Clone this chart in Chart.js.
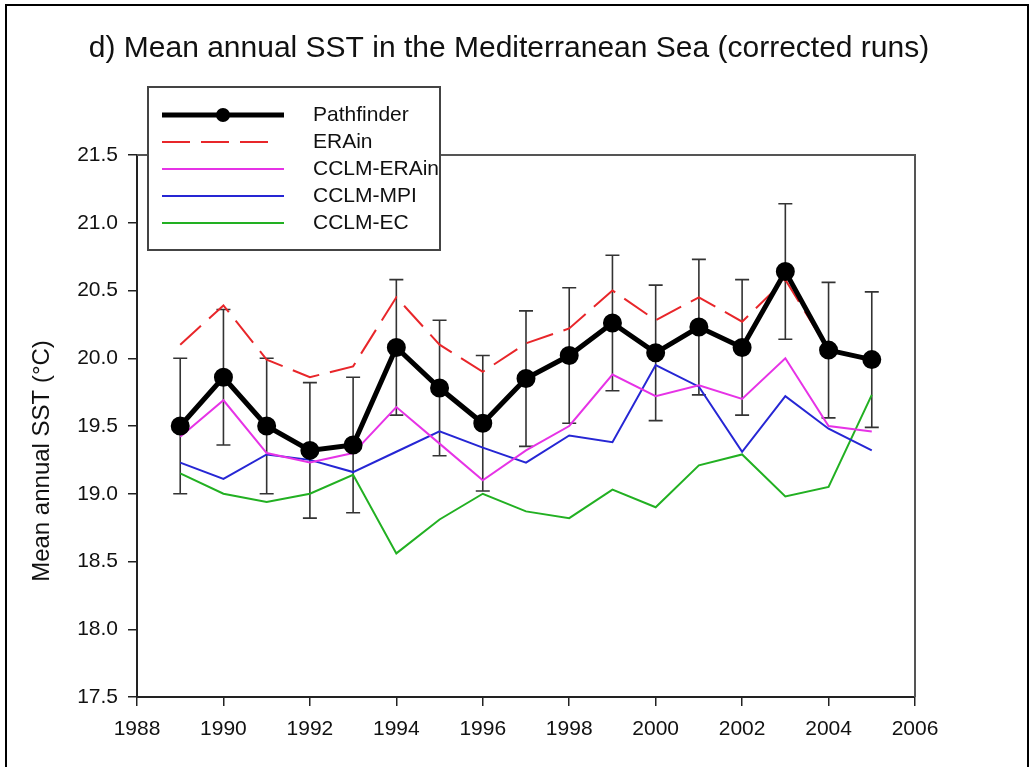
<!DOCTYPE html>
<html>
<head>
<meta charset="utf-8">
<script src="https://cdn.jsdelivr.net/npm/chart.js@4.4.1/dist/chart.umd.min.js"></script>
<style>
  html, body { margin: 0; padding: 0; background: #fff; }
  #wrap { position: relative; width: 1034px; height: 767px; }
  #frame { position: absolute; left: 5px; top: 4px; width: 1024px; height: 780px; border: 2px solid #000; box-sizing: border-box; pointer-events: none; }
  canvas { position: absolute; left: 0; top: 0; }
</style>
</head>
<body>
<div id="wrap">
  <canvas id="c" width="1034" height="767"></canvas>
  <div id="frame"></div>
</div>
<script>
const years = [1989,1990,1991,1992,1993,1994,1995,1996,1997,1998,1999,2000,2001,2002,2003,2004,2005];
const pathfinder = [19.50,19.86,19.50,19.32,19.36,20.08,19.78,19.52,19.85,20.02,20.26,20.04,20.23,20.08,20.64,20.06,19.99];
const pathfinderErr = [0.5,0.5,0.5,0.5,0.5,0.5,0.5,0.5,0.5,0.5,0.5,0.5,0.5,0.5,0.5,0.5,0.5];
const erain = [20.10,20.39,19.99,19.86,19.94,20.45,20.10,19.90,20.11,20.22,20.50,20.28,20.45,20.27,20.58,20.06,19.98];
const cclmErain = [19.42,19.69,19.30,19.23,19.30,19.64,19.37,19.10,19.32,19.50,19.88,19.72,19.80,19.70,20.00,19.50,19.46];
const cclmMpi = [19.23,19.11,19.29,19.25,19.16,19.31,19.46,19.34,19.23,19.43,19.38,19.95,19.79,19.31,19.72,19.48,19.32];
const cclmEc = [19.15,19.00,18.94,19.00,19.14,18.56,18.81,19.00,18.87,18.82,19.03,18.90,19.21,19.29,18.98,19.05,19.73];
const xTicks = [1988,1990,1992,1994,1996,1998,2000,2002,2004,2006];
const yTicks = [17.5,18.0,18.5,19.0,19.5,20.0,20.5,21.0,21.5];
const titleText = 'd) Mean annual SST in the Mediterranean Sea (corrected runs)';
const yTitle = 'Mean annual SST (\u00B0C)';

const pts = arr => years.map((y, i) => ({ x: y, y: arr[i] }));
const FONT = '"Liberation Sans", Arial, sans-serif';

const errorBars = {
  id: 'errorBars',
  beforeDatasetsDraw(chart) {
    const { ctx, scales: { x, y } } = chart;
    ctx.save();
    ctx.strokeStyle = '#333';
    ctx.lineWidth = 1.6;
    years.forEach((yr, i) => {
      const px = x.getPixelForValue(yr);
      const top = y.getPixelForValue(pathfinder[i] + pathfinderErr[i]);
      const bot = y.getPixelForValue(pathfinder[i] - pathfinderErr[i]);
      ctx.beginPath();
      ctx.moveTo(px, top); ctx.lineTo(px, bot);
      ctx.moveTo(px - 7, top); ctx.lineTo(px + 7, top);
      ctx.moveTo(px - 7, bot); ctx.lineTo(px + 7, bot);
      ctx.stroke();
    });
    ctx.restore();
  }
};

const frameAndText = {
  id: 'frameAndText',
  beforeDatasetsDraw(chart) {
    const { ctx, chartArea: a } = chart;
    ctx.save();
    ctx.strokeStyle = '#555';
    ctx.lineWidth = 2;
    ctx.beginPath();
    ctx.moveTo(a.left, a.top); ctx.lineTo(a.right, a.top); ctx.lineTo(a.right, a.bottom);
    ctx.stroke();
    ctx.restore();
  },
  afterDraw(chart) {
    const { ctx } = chart;
    ctx.save();
    ctx.fillStyle = '#111';
    ctx.font = '30px ' + FONT;
    ctx.textAlign = 'center';
    ctx.textBaseline = 'middle';
    ctx.fillText(titleText, 509, 49);
    ctx.translate(42, 461);
    ctx.rotate(-Math.PI / 2);
    ctx.font = '24px ' + FONT;
    ctx.fillText(yTitle, 0, 0);
    ctx.restore();

    ctx.save();
    const bx = 148, by = 87, bw = 292, bh = 163;
    ctx.fillStyle = '#fff';
    ctx.fillRect(bx, by, bw, bh);
    ctx.strokeStyle = '#444';
    ctx.lineWidth = 2;
    ctx.strokeRect(bx, by, bw, bh);
    const rows = [115, 142, 169, 196, 223];
    chart.data.datasets.forEach((ds, i) => {
      const yy = rows[i];
      ctx.beginPath();
      ctx.strokeStyle = ds.borderColor;
      ctx.lineWidth = ds.borderWidth;
      ctx.setLineDash(ds.borderDash || []);
      ctx.moveTo(162, yy); ctx.lineTo(i === 1 ? 272 : 284, yy);
      ctx.stroke();
      ctx.setLineDash([]);
      if (ds.pointRadius > 0) {
        ctx.beginPath();
        ctx.fillStyle = ds.pointBackgroundColor;
        ctx.arc(223, yy, ds.pointRadius, 0, Math.PI * 2);
        ctx.fill();
      }
      ctx.fillStyle = '#111';
      ctx.font = '21px ' + FONT;
      ctx.textAlign = 'left';
      ctx.textBaseline = 'middle';
      ctx.fillText(ds.label, 313, yy);
    });
    ctx.restore();
  }
};

new Chart(document.getElementById('c'), {
  type: 'line',
  data: {
    datasets: [
      { label: 'Pathfinder', data: pts(pathfinder), borderColor: '#000', borderWidth: 5, pointRadius: 7, pointBackgroundColor: '#000', pointBorderColor: '#000', pointHoverRadius: 7, order: 0 },
      { label: 'ERAin', data: pts(erain), borderColor: '#e8262a', borderWidth: 2, borderDash: [28, 11], pointRadius: 0, order: 1 },
      { label: 'CCLM-ERAin', data: pts(cclmErain), borderColor: '#e633e6', borderWidth: 2, pointRadius: 0, order: 2 },
      { label: 'CCLM-MPI', data: pts(cclmMpi), borderColor: '#2626d4', borderWidth: 2, pointRadius: 0, order: 3 },
      { label: 'CCLM-EC', data: pts(cclmEc), borderColor: '#22b022', borderWidth: 2, pointRadius: 0, order: 4 }
    ]
  },
  options: {
    responsive: false,
    animation: false,
    events: [],
    layout: { padding: { top: 155, right: 119, left: 0, bottom: 0 } },
    plugins: { legend: { display: false }, title: { display: false }, tooltip: { enabled: false } },
    scales: {
      x: {
        type: 'linear', min: 1988, max: 2006,
        afterBuildTicks: s => { s.ticks = xTicks.map(v => ({ value: v })); },
        afterFit: s => { s.height = 70; },
        grid: { drawOnChartArea: false, drawTicks: true, tickLength: 9, color: '#222', lineWidth: 1.5 },
        border: { display: true, color: '#222', width: 2 },
        ticks: { color: '#111', font: { size: 21, family: FONT }, padding: 11, maxRotation: 0, autoSkip: false, callback: v => String(v) }
      },
      y: {
        type: 'linear', min: 17.5, max: 21.5,
        afterBuildTicks: s => { s.ticks = yTicks.map(v => ({ value: v })); },
        afterFit: s => { s.width = 137; },
        grid: { drawOnChartArea: false, drawTicks: true, tickLength: 9, color: '#222', lineWidth: 1.5 },
        border: { display: true, color: '#222', width: 2 },
        ticks: { color: '#111', font: { size: 21, family: FONT }, padding: 10, autoSkip: false, callback: v => Number(v).toFixed(1) }
      }
    }
  },
  plugins: [errorBars, frameAndText]
});
</script>
</body>
</html>
